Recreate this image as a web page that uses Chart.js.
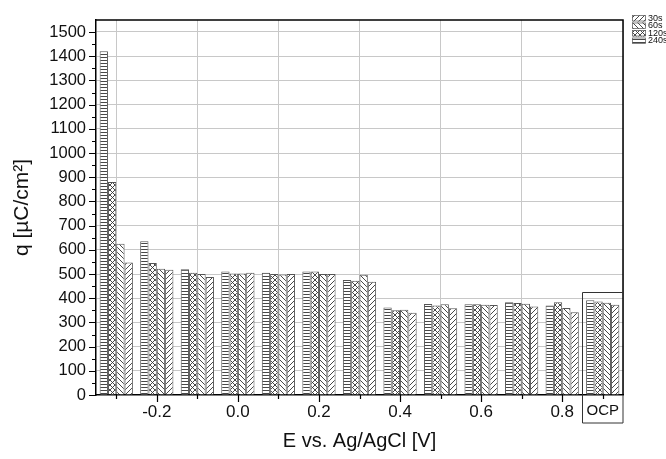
<!DOCTYPE html>
<html>
<head>
<meta charset="utf-8">
<script src="https://cdn.jsdelivr.net/npm/chart.js@4.4.0/dist/chart.umd.min.js"></script>
<style>
html,body{margin:0;padding:0;background:#fff;}
#wrap{width:666px;height:459px;position:relative;}
</style>
</head>
<body>
<div id="wrap"><canvas id="c" width="666" height="459"></canvas></div>
<script>
// ---- data ----
const categories = ['-0.3','-0.2','-0.1','0.0','0.1','0.2','0.3','0.4','0.5','0.6','0.7','0.8','OCP'];
const potentials = [-0.3,-0.2,-0.1,0.0,0.1,0.2,0.3,0.4,0.5,0.6,0.7,0.8,0.9]; // OCP placed after 0.8
const q240s = [1420, 635, 520, 510, 505, 510, 475, 362, 376, 375, 383, 370, 392];
const q120s = [ 880, 545, 505, 502, 500, 510, 472, 350, 370, 375, 380, 383, 386];
const q60s  = [ 625, 522, 500, 502, 498, 500, 497, 352, 375, 373, 377, 360, 381];
const q30s  = [ 548, 518, 488, 505, 500, 500, 468, 340, 358, 372, 366, 342, 373];
const seriesNames = ['30s','60s','120s','240s'];
const xMajorTicks = [-0.2, 0.0, 0.2, 0.4, 0.6, 0.8];
const xMajorLabels = ['-0.2','0.0','0.2','0.4','0.6','0.8'];
const xMinorTicks = [-0.3, -0.1, 0.1, 0.3, 0.5, 0.7, 0.9];
const ocpLabel = 'OCP';
const yMajorTicks = [0,100,200,300,400,500,600,700,800,900,1000,1100,1200,1300,1400,1500];
const yMinorTicks = [50,150,250,350,450,550,650,750,850,950,1050,1150,1250,1350,1450];

// ---- hatch patterns ----
function makePattern(kind){
  const s = kind==='h' ? 3 : 5;
  const c = document.createElement('canvas');
  c.width = s; c.height = s;
  const g = c.getContext('2d');
  g.fillStyle = '#fff'; g.fillRect(0,0,s,s);
  g.strokeStyle = '#333'; g.lineWidth = 0.9;
  g.beginPath();
  if(kind==='h'){
    g.moveTo(0,0.5); g.lineTo(s,0.5);
  }
  if(kind==='f' || kind==='x'){ // forward  ///
    g.moveTo(-1,1); g.lineTo(1,-1);
    g.moveTo(0,s); g.lineTo(s,0);
    g.moveTo(s-1,s+1); g.lineTo(s+1,s-1);
  }
  if(kind==='b' || kind==='x'){ // back  \\\
    g.moveTo(-1,s-1); g.lineTo(1,s+1);
    g.moveTo(0,0); g.lineTo(s,s);
    g.moveTo(s-1,-1); g.lineTo(s+1,1);
  }
  g.stroke();
  return g.createPattern(c,'repeat');
}
const pat = {h:makePattern('h'), x:makePattern('x'), b:makePattern('b'), f:makePattern('f')};

function pts(arr){ return potentials.map((p,i)=>({x:p, y:arr[i]})); }

const datasets = [
  {label:'240s', data:pts(q240s), backgroundColor:pat.h},
  {label:'120s', data:pts(q120s), backgroundColor:pat.x},
  {label:'60s',  data:pts(q60s),  backgroundColor:pat.b},
  {label:'30s',  data:pts(q30s),  backgroundColor:pat.f}
].map(d=>Object.assign(d,{borderColor:'#555', borderWidth:1, barPercentage:1.0, categoryPercentage:0.82}));

const legendItems = [
  {label:seriesNames[0], p:pat.f},
  {label:seriesNames[1], p:pat.b},
  {label:seriesNames[2], p:pat.x},
  {label:seriesNames[3], p:pat.h}
];

const FONT = "'Liberation Sans', Arial, sans-serif";

const decor = {
  id:'decor',
  afterDatasetsDraw(chart){
    const {ctx, chartArea:a, scales:{x,y}} = chart;
    ctx.save();
    // frame top/right
    ctx.strokeStyle = '#000'; ctx.lineWidth = 1.5;
    ctx.beginPath();
    ctx.moveTo(a.left, a.top); ctx.lineTo(a.right, a.top); ctx.lineTo(a.right, a.bottom);
    ctx.stroke();
    // OCP box
    ctx.strokeStyle = '#333'; ctx.lineWidth = 1;
    const bx = Math.round(x.getPixelForValue(0.85))+0.5;
    const by = Math.round(y.getPixelForValue(425))+0.5;
    ctx.beginPath();
    ctx.moveTo(bx, a.bottom+28); ctx.lineTo(bx, by); ctx.lineTo(a.right, by);
    ctx.moveTo(bx, a.bottom+28); ctx.lineTo(a.right, a.bottom+28); ctx.lineTo(a.right, a.bottom);
    ctx.stroke();
    // tick marks
    ctx.strokeStyle = '#000'; ctx.lineWidth = 1.2;
    ctx.beginPath();
    xMajorTicks.forEach(v=>{const px=Math.round(x.getPixelForValue(v))+0.5; ctx.moveTo(px,a.bottom); ctx.lineTo(px,a.bottom+7);});
    xMinorTicks.forEach(v=>{const px=Math.round(x.getPixelForValue(v))+0.5; ctx.moveTo(px,a.bottom); ctx.lineTo(px,a.bottom+4);});
    yMajorTicks.forEach(v=>{const py=Math.round(y.getPixelForValue(v))+0.5; ctx.moveTo(a.left,py); ctx.lineTo(a.left-7,py);});
    yMinorTicks.forEach(v=>{const py=Math.round(y.getPixelForValue(v))+0.5; ctx.moveTo(a.left,py); ctx.lineTo(a.left-4,py);});
    ctx.stroke();
    // legend
    ctx.font = "9px " + FONT;
    ctx.textBaseline = 'middle'; ctx.textAlign = 'left';
    legendItems.forEach((it,i)=>{
      const ty = 15 + i*7.5;
      ctx.fillStyle = it.p; ctx.fillRect(632, ty, 14, 6.5);
      ctx.strokeStyle = '#666'; ctx.lineWidth = 0.8; ctx.strokeRect(632.5, ty+0.5, 13, 5.5);
      ctx.fillStyle = '#111'; ctx.fillText(it.label, 648, ty+3.5);
    });
    ctx.restore();
  }
};

new Chart(document.getElementById('c'), {
  type:'bar',
  data:{datasets},
  options:{
    responsive:false, animation:false,
    layout:{padding:{top:10, right:43, left:0, bottom:0}},
    plugins:{legend:{display:false}, tooltip:{enabled:false}},
    scales:{
      x:{
        type:'linear', min:-0.35, max:0.95, offset:false,
        afterBuildTicks(s){ s.ticks = xMajorTicks.concat([0.9]).map(v=>({value:v})); },
        afterFit(s){ s.height = 64; },
        ticks:{
          autoSkip:false, maxRotation:0, padding:7, color:'#111',
          font:(c)=> (c.tick && c.tick.value===0.9) ? {family:FONT,size:15} : {family:FONT,size:17},
          callback:(v)=>{ const i = xMajorTicks.findIndex(t=>Math.abs(t-v)<1e-6); return i>=0 ? xMajorLabels[i] : (Math.abs(v-0.9)<1e-6 ? ocpLabel : ''); }
        },
        grid:{drawTicks:false, color:(c)=> (c.tick && Math.abs(c.tick.value-0.9)<1e-6) ? 'rgba(0,0,0,0)' : '#c8c8c8', lineWidth:1},
        border:{color:'#000', width:1.5},
        title:{display:true, text:'E vs. Ag/AgCl [V]', color:'#111', font:{family:FONT,size:20}, padding:{top:0,bottom:6}}
      },
      y:{
        min:0, max:1550,
        afterBuildTicks(s){ s.ticks = yMajorTicks.map(v=>({value:v})); },
        afterFit(s){ s.width = 96; },
        ticks:{padding:10, color:'#111', font:{family:FONT,size:16.5}, callback:(v)=>String(v)},
        grid:{drawTicks:false, color:(c)=> (c.tick && c.tick.value===0) ? 'rgba(0,0,0,0)' : '#c8c8c8', lineWidth:1},
        border:{color:'#000', width:1.5},
        title:{display:true, text:'q [µC/cm²]', color:'#111', font:{family:FONT,size:21}, padding:{top:10,bottom:0}}
      }
    }
  },
  plugins:[decor]
});
</script>
</body>
</html>
